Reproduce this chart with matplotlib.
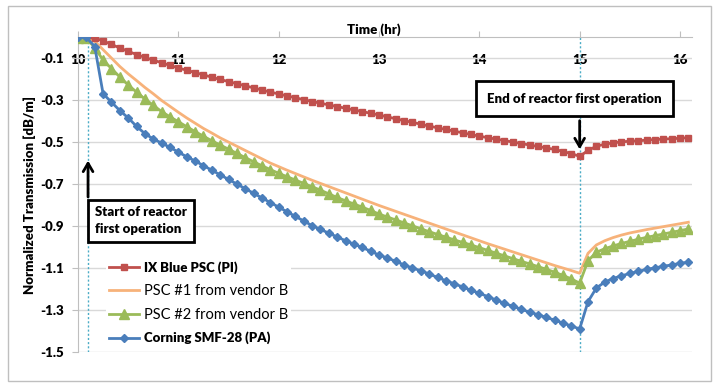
import numpy as np
import matplotlib
matplotlib.use("Agg")
import matplotlib.pyplot as plt
from matplotlib.patches import Rectangle

plt.rcParams["font.family"] = ["Lato", "DejaVu Sans"]

# time axis: one reading every 5 minutes starting at 10 h
time_hr = 10 + np.arange(74) / 12

ixblue = [-0.003, -0.003, -0.005, -0.018, -0.035, -0.052, -0.068, -0.083, -0.097, -0.11,
          -0.122, -0.135, -0.147, -0.158, -0.169, -0.18, -0.191, -0.202, -0.212, -0.222,
          -0.232, -0.242, -0.252, -0.262, -0.271, -0.28, -0.289, -0.298, -0.307, -0.315,
          -0.323, -0.331, -0.339, -0.347, -0.355, -0.363, -0.371, -0.38, -0.389, -0.398,
          -0.406, -0.415, -0.424, -0.432, -0.44, -0.448, -0.456, -0.464, -0.472, -0.479,
          -0.486, -0.493, -0.5, -0.507, -0.514, -0.521, -0.528, -0.535, -0.545, -0.555,
          -0.568, -0.54, -0.52, -0.51, -0.504, -0.499, -0.496, -0.494, -0.491, -0.488,
          -0.486, -0.484, -0.482, -0.479]

psc1 = [-0.005, -0.005, -0.02, -0.06, -0.10, -0.14, -0.175, -0.207, -0.24, -0.27,
        -0.302, -0.33, -0.358, -0.385, -0.41, -0.435, -0.457, -0.48, -0.5, -0.52,
        -0.54, -0.56, -0.58, -0.6, -0.617, -0.634, -0.65, -0.666, -0.682, -0.697,
        -0.712, -0.727, -0.742, -0.757, -0.772, -0.787, -0.802, -0.816, -0.83, -0.844,
        -0.858, -0.872, -0.886, -0.9, -0.914, -0.928, -0.942, -0.956, -0.97, -0.984,
        -0.997, -1.01, -1.023, -1.036, -1.049, -1.062, -1.075, -1.088, -1.1, -1.112,
        -1.125, -1.03, -0.99, -0.97, -0.955, -0.943, -0.933, -0.925, -0.917, -0.91,
        -0.903, -0.896, -0.889, -0.882]

psc2 = [-0.005, -0.005, -0.05, -0.11, -0.15, -0.19, -0.228, -0.262, -0.295, -0.325,
        -0.355, -0.38, -0.403, -0.427, -0.45, -0.472, -0.494, -0.514, -0.534, -0.554,
        -0.574, -0.594, -0.613, -0.631, -0.649, -0.665, -0.681, -0.697, -0.713, -0.729,
        -0.747, -0.764, -0.78, -0.795, -0.81, -0.826, -0.843, -0.857, -0.871, -0.885,
        -0.899, -0.913, -0.927, -0.94, -0.953, -0.966, -0.978, -0.99, -1.003, -1.016,
        -1.029, -1.042, -1.055, -1.068, -1.08, -1.093, -1.106, -1.12, -1.135, -1.152,
        -1.172, -1.065, -1.025, -1.008, -0.995, -0.983, -0.973, -0.963, -0.954, -0.946,
        -0.938, -0.93, -0.922, -0.914]

corning = [0.0, -0.002, -0.045, -0.27, -0.31, -0.35, -0.385, -0.425, -0.46, -0.485,
           -0.505, -0.525, -0.548, -0.57, -0.59, -0.612, -0.634, -0.656, -0.678, -0.70,
           -0.722, -0.744, -0.766, -0.788, -0.81, -0.832, -0.854, -0.876, -0.898, -0.916,
           -0.934, -0.952, -0.97, -0.986, -1.002, -1.02, -1.038, -1.052, -1.068, -1.085,
           -1.10, -1.113, -1.128, -1.145, -1.16, -1.175, -1.19, -1.206, -1.22, -1.236,
           -1.252, -1.268, -1.282, -1.296, -1.31, -1.322, -1.335, -1.348, -1.362, -1.376,
           -1.39, -1.26, -1.195, -1.167, -1.15, -1.137, -1.126, -1.116, -1.107, -1.099,
           -1.092, -1.085, -1.078, -1.072]

labels = ["IX Blue PSC (PI)", "PSC #1 from vendor B", "PSC #2 from vendor B",
          "Corning SMF-28 (PA)"]
y_ticks = [-0.1, -0.3, -0.5, -0.7, -0.9, -1.1, -1.3, -1.5]
x_ticks = [10, 11, 12, 13, 14, 15, 16]
start_t, end_t = 10.1, 15.0

fig = plt.figure(figsize=(7.19, 3.85), dpi=100)
ax = fig.add_axes([0.1085, 0.0857, 0.854, 0.818])

ax.plot(time_hr, ixblue, color="#c0504d", lw=2, marker="s", ms=4.5, label=labels[0], zorder=4)
ax.plot(time_hr, psc1, color="#f7b27a", lw=2, label=labels[1], zorder=3)
ax.plot(time_hr, psc2, color="#9bbb59", lw=2, marker="^", ms=6.5, label=labels[2], zorder=4)
ax.plot(time_hr, corning, color="#4a7ebb", lw=2, marker="D", ms=4.5, label=labels[3], zorder=4)

for t in (start_t, end_t):
    ax.axvline(t, color="#4bacc6", lw=1, ls=(0, (1.5, 1.5)), zorder=2)

ax.set_xlim(10, 16.12)
ax.set_ylim(-1.5, 0)
ax.set_yticks(y_ticks)
ax.set_yticklabels([f"{v:.1f}" for v in y_ticks])
ax.set_xticks(x_ticks)
ax.grid(axis="y", color="#d9d9d9", lw=1)
ax.set_axisbelow(True)

for s in ("right", "bottom"):
    ax.spines[s].set_visible(False)
for s in ("top", "left"):
    ax.spines[s].set_color("#bfbfbf")

ax.xaxis.tick_top()
ax.tick_params(axis="x", direction="out", length=4, color="#bfbfbf", pad=-25,
               labelsize=9.5)
ax.tick_params(axis="y", direction="out", length=4, color="#bfbfbf", pad=6,
               labelsize=9.5)
for lab in ax.get_xticklabels() + ax.get_yticklabels():
    lab.set_fontweight("heavy")

ax.set_ylabel("Normalized Transmission [dB/m]", fontsize=9.5, fontweight="heavy", labelpad=3)
fig.text(0.52, 1 - 30 / 385, "Time (hr)", ha="center", va="center", fontsize=9.5,
         fontweight="heavy")

# annotation boxes
arrow = dict(arrowstyle="->,head_length=0.6,head_width=0.35", lw=2, color="black")
box = dict(boxstyle="square,pad=0.5", fc="white", ec="black", lw=2)
ax.text(10.17, -0.876, "Start of reactor\nfirst operation", fontsize=9.5, fontweight="heavy",
        ha="left", va="center", bbox=box, linespacing=1.5, zorder=6)
ax.annotate("", xy=(start_t, -0.575), xytext=(start_t, -0.775), arrowprops=arrow, zorder=6)

box2 = dict(boxstyle="square,pad=0.85", fc="white", ec="black", lw=2)
ax.text(14.08, -0.293, "End of reactor first operation", fontsize=9.5, fontweight="heavy",
        ha="left", va="center", bbox=box2, zorder=6)
ax.annotate("", xy=(end_t, -0.548), xytext=(end_t, -0.385), arrowprops=arrow, zorder=6)

leg = ax.legend(loc="lower left", bbox_to_anchor=(0.035, -0.005), frameon=True,
                facecolor="white", edgecolor="none", framealpha=1, fontsize=9.5,
                handlelength=2.3, handletextpad=0.35, labelspacing=0.75, borderpad=0.2)
leg.set_zorder(5)
for i, txt in enumerate(leg.get_texts()):
    if i in (0, 3):
        txt.set_fontweight("heavy")
    else:
        txt.set_fontsize(10.5)

fig.patches.append(Rectangle((8 / 719, 4 / 385), 703 / 719, 375 / 385, transform=fig.transFigure,
                             fill=False, ec="#bfbfbf", lw=1))

fig.savefig("out.png", dpi=100)
